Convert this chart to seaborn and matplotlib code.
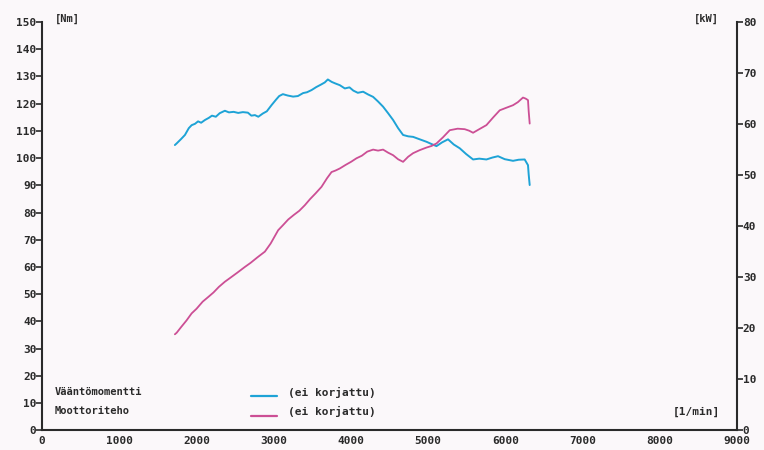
import pandas as pd
import seaborn as sns
import matplotlib.pyplot as plt

# torque curve (rpm, Nm)
rpm_torque = [1720, 1743, 1800, 1850, 1900, 1937, 1980, 2020, 2060, 2109, 2160, 2200, 2250,
              2300, 2367, 2420, 2480, 2540, 2600, 2665, 2710, 2756, 2800, 2859, 2910, 2972,
              3030, 3070, 3118, 3180, 3250, 3312, 3380, 3430, 3489, 3550, 3610, 3660, 3700,
              3750, 3800, 3855, 3920, 3980, 4030, 4088, 4157, 4220, 4286, 4350, 4415, 4480,
              4545, 4610, 4674, 4740, 4804, 4880, 4977, 5040, 5106, 5180, 5256, 5330, 5408,
              5490, 5580, 5660, 5753, 5830, 5903, 5990, 6097, 6170, 6248, 6291, 6300, 6313]
torque_nm = [104.8, 105.4, 107.0, 108.5, 111.0, 112.1, 112.6, 113.5, 113.0, 114.0, 114.8, 115.6,
             115.2, 116.5, 117.4, 116.8, 117.0, 116.6, 116.9, 116.7, 115.6, 115.8, 115.2, 116.4,
             117.2, 119.5, 121.5, 122.8, 123.5, 123.0, 122.6, 122.8, 123.9, 124.2, 125.0, 126.1,
             127.0, 127.8, 128.9, 128.0, 127.4, 126.8, 125.6, 126.0, 124.8, 124.0, 124.4, 123.4,
             122.5, 120.8, 118.9, 116.5, 114.0, 111.0, 108.5, 108.0, 107.8, 107.0, 106.0, 105.2,
             104.4, 105.8, 106.9, 105.0, 103.6, 101.5, 99.5, 99.8, 99.5, 100.2, 100.7, 99.6,
             99.0, 99.4, 99.5, 97.4, 94.0, 90.1]

# power curve (rpm, kW)
rpm_power = [1720, 1743, 1800, 1870, 1937, 2000, 2080, 2151, 2220, 2290, 2367, 2440, 2530, 2626,
             2700, 2790, 2885, 2960, 3057, 3120, 3187, 3260, 3330, 3402, 3470, 3540, 3618, 3690,
             3748, 3800, 3855, 3930, 4000, 4071, 4140, 4210, 4286, 4350, 4415, 4480, 4545, 4610,
             4674, 4740, 4804, 4890, 4977, 5040, 5106, 5190, 5278, 5380, 5472, 5530, 5580, 5660,
             5753, 5840, 5925, 6010, 6097, 6160, 6226, 6260, 6291, 6300, 6313]
power_kw = [18.8, 19.1, 20.2, 21.5, 22.9, 23.8, 25.2, 26.1, 27.0, 28.1, 29.1, 29.9, 30.9, 32.0,
            32.8, 33.9, 35.0, 36.6, 39.2, 40.2, 41.3, 42.2, 43.0, 44.1, 45.3, 46.4, 47.7, 49.4,
            50.6, 50.9, 51.3, 52.0, 52.6, 53.3, 53.8, 54.6, 55.0, 54.8, 55.0, 54.4, 53.9, 53.1,
            52.6, 53.6, 54.3, 54.9, 55.4, 55.7, 56.2, 57.4, 58.8, 59.1, 59.0, 58.7, 58.3, 59.0,
            59.8, 61.3, 62.7, 63.2, 63.7, 64.3, 65.2, 65.0, 64.7, 62.5, 60.1]

x_ticks = list(range(0, 9001, 1000))
nm_ticks = list(range(0, 151, 10))
kw_ticks = list(range(0, 81, 10))

torque_df = pd.DataFrame({"rpm": rpm_torque, "Nm": torque_nm})
power_df = pd.DataFrame({"rpm": rpm_power, "kW": power_kw})

BLUE = "#1ea3d6"
PINK = "#cc4f95"
INK = "#2a2a2a"
BG = "#fbf8fa"

sns.set_style("white")
plt.rcParams["font.family"] = ["DejaVu Sans Mono"]
plt.rcParams["font.weight"] = "bold"

fig = plt.figure(figsize=(7.64, 4.5), dpi=100, facecolor=BG)
ax = fig.add_axes([0.055, 0.044, 0.91, 0.907])
ax.set_facecolor(BG)
ax2 = ax.twinx()

sns.lineplot(data=torque_df, x="rpm", y="Nm", ax=ax, color=BLUE, linewidth=1.4)
sns.lineplot(data=power_df, x="rpm", y="kW", ax=ax2, color=PINK, linewidth=1.3)

ax.set_xlim(0, 9000)
ax.set_ylim(0, 150)
ax2.set_ylim(0, 80)
ax.set_xticks(x_ticks)
ax.set_yticks(nm_ticks)
ax2.set_yticks(kw_ticks)
ax.set_xlabel("")
ax.set_ylabel("")
ax2.set_ylabel("")

for a in (ax, ax2):
    for s in a.spines.values():
        s.set_color(INK)
        s.set_linewidth(1.5)
    a.spines["top"].set_visible(False)

ax.spines["right"].set_visible(False)
ax2.spines["left"].set_visible(False)
ax2.spines["bottom"].set_visible(False)

ax.tick_params(axis="x", direction="inout", length=7, width=1.2, color=INK,
               labelsize=8, labelcolor=INK, pad=1)
ax.tick_params(axis="y", direction="out", length=4, width=1.2, color=INK,
               labelsize=8, labelcolor=INK, pad=0)
ax2.tick_params(axis="y", direction="out", length=4, width=1.2, color=INK,
                labelsize=8, labelcolor=INK, pad=0)

ax.text(0.018, 0.995, "[Nm]", transform=ax.transAxes, fontsize=7.5, color=INK,
        ha="left", va="bottom")
ax.text(0.973, 0.995, "[kW]", transform=ax.transAxes, fontsize=7.5, color=INK,
        ha="right", va="bottom")
ax.text(0.975, 0.045, "[1/min]", transform=ax.transAxes, fontsize=8, color=INK,
        ha="right", va="center")

# legend drawn as on the original sheet
ax.text(0.018, 0.093, "Vääntömomentti", transform=ax.transAxes, fontsize=7.5, color=INK,
        va="center")
ax.text(0.018, 0.046, "Moottoriteho", transform=ax.transAxes, fontsize=7.5, color=INK,
        va="center")
ax.plot([0.30, 0.338], [0.085, 0.085], transform=ax.transAxes, color=BLUE, linewidth=1.6)
ax.plot([0.30, 0.338], [0.035, 0.035], transform=ax.transAxes, color=PINK, linewidth=1.6)
ax.text(0.354, 0.093, "(ei korjattu)", transform=ax.transAxes, fontsize=8, color=INK,
        va="center")
ax.text(0.354, 0.046, "(ei korjattu)", transform=ax.transAxes, fontsize=8, color=INK,
        va="center")

fig.savefig("out.png", dpi=100, facecolor=BG)
